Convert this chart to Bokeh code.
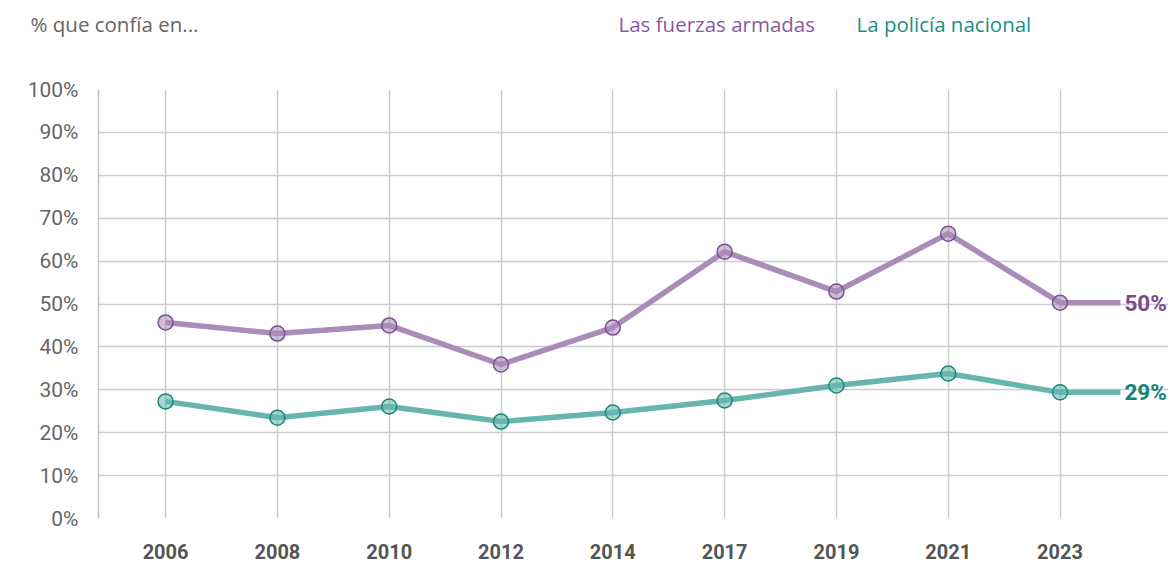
from bokeh.plotting import figure
from bokeh.models import Label, FixedTicker, Range1d
from bokeh.layouts import column
from bokeh.embed import file_html
from bokeh.resources import INLINE
from bokeh.core.properties import value

years = ["2006", "2008", "2010", "2012", "2014", "2017", "2019", "2021", "2023"]
fuerzas = [45.7, 43.1, 45.0, 35.9, 44.5, 62.2, 52.9, 66.4, 50.3]
policia = [27.3, 23.5, 26.1, 22.6, 24.7, 27.5, 31.0, 33.8, 29.4]
y_ticks = [0, 10, 20, 30, 40, 50, 60, 70, 80, 90, 100]
header_title = "% que confía en..."
legend_names = ["Las fuerzas armadas", "La policía nacional"]

xs = list(range(len(years)))
ext = xs[-1] + 0.54

W = 1168
HH = 50
LEFT = 98

# header (title + legend)
h = figure(width=W, height=HH, output_backend="svg", toolbar_location=None,
           x_range=Range1d(0, W), y_range=Range1d(0, HH),
           min_border_left=0, min_border_right=0, min_border_top=0, min_border_bottom=0)
try:
    h.frame_align = False
except Exception:
    pass
h.axis.visible = False
h.grid.visible = False
h.outline_line_color = None
h.text(x=[30], y=[HH - 23], text=[header_title], text_font=value("Open Sans"),
       text_font_size="20.5px", text_color="#666666", text_baseline="middle")
h.text(x=[618], y=[HH - 23], text=[legend_names[0]], text_font=value("Open Sans"),
       text_font_size="20.5px", text_color="#8a5a9c", text_baseline="middle")
h.text(x=[856], y=[HH - 23], text=[legend_names[1]], text_font=value("Open Sans"),
       text_font_size="20.5px", text_color="#1b9085", text_baseline="middle")

p = figure(width=W, height=562 - HH, output_backend="svg", toolbar_location=None,
           x_range=Range1d(-0.6, 8.97), y_range=Range1d(0, 100),
           min_border_left=LEFT, min_border_right=0, min_border_top=89 - HH, min_border_bottom=44)
try:
    p.frame_align = False
except Exception:
    pass
p.outline_line_color = None
p.background_fill_color = "white"
p.border_fill_color = "white"

p.xaxis.ticker = FixedTicker(ticks=xs)
p.xaxis.major_label_overrides = {i: y for i, y in enumerate(years)}
p.xaxis.axis_line_color = None
p.xaxis.major_tick_line_color = None
p.xaxis.minor_tick_line_color = None
p.xaxis.major_label_text_font = "Roboto"
p.xaxis.major_label_text_font_style = "bold"
p.xaxis.major_label_text_font_size = "20px"
p.xaxis.major_label_text_color = "#555555"
p.xaxis.major_label_standoff = 19

p.yaxis.ticker = FixedTicker(ticks=y_ticks)
p.yaxis.major_label_overrides = {t: f"{t}%" for t in y_ticks}
p.yaxis.axis_line_color = "#c4c4c4"
p.yaxis.axis_line_width = 1.5
p.yaxis.major_tick_line_color = None
p.yaxis.minor_tick_line_color = None
p.yaxis.major_label_text_font = "Roboto"
p.yaxis.major_label_text_font_size = "21px"
p.yaxis.major_label_text_color = "#666666"
p.yaxis.major_label_standoff = 14

p.xgrid.ticker = FixedTicker(ticks=xs)
p.ygrid.ticker = FixedTicker(ticks=y_ticks)
p.xgrid.grid_line_color = "#cccccc"
p.ygrid.grid_line_color = "#cccccc"
p.xgrid.grid_line_width = 1.5
p.ygrid.grid_line_width = 1.5

series = [
    (fuerzas, "#a98cb8", "#7e4f91", "#7b4a8e"),
    (policia, "#66b6af", "#17877d", "#138578"),
]
for vals, lc, oc, tc in series:
    p.line(xs + [ext], vals + [vals[-1]], line_color=lc, line_width=5.5, line_join="round")
    p.scatter(xs, vals, size=15, fill_color=lc, fill_alpha=0.55, line_color=oc, line_width=1.5)
    p.add_layout(Label(x=ext, y=vals[-1], text=f"{round(vals[-1])}%", x_offset=4,
                       text_font="Roboto", text_font_style="bold",
                       text_font_size="22.5px", text_color=tc, text_baseline="middle"))

layout = column(h, p, spacing=0)
open("out.html", "w").write(file_html(layout, INLINE))
